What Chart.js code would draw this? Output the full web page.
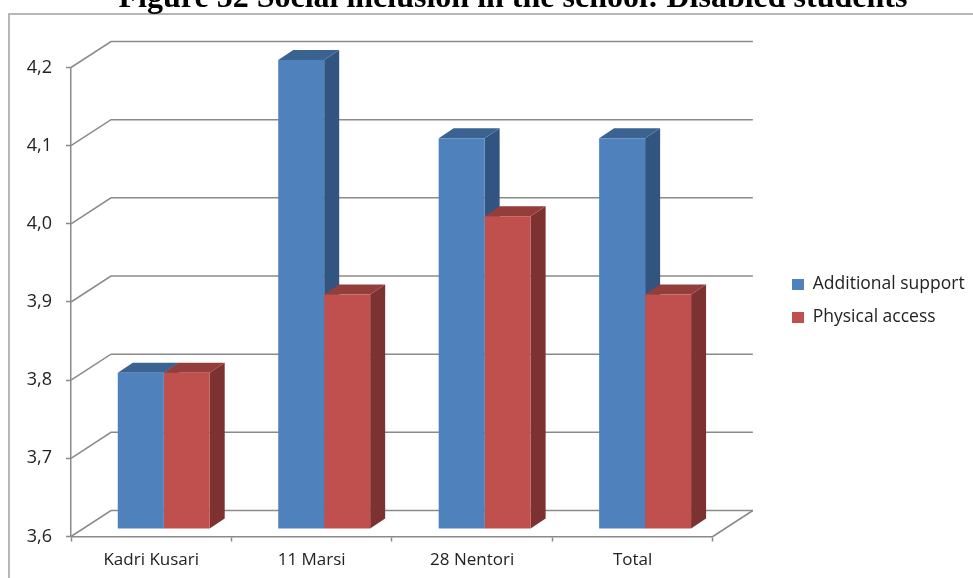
<!DOCTYPE html>
<html>
<head>
<meta charset="utf-8">
<style>
  html, body { margin: 0; padding: 0; background: #fff; overflow: hidden; }
  canvas { display: block; }
</style>
<script src="https://cdn.jsdelivr.net/npm/chart.js@4/dist/chart.umd.min.js"></script>
</head>
<body>
<canvas id="chart" width="973" height="578"></canvas>
<script>
const categories = ['Kadri Kusari', '11 Marsi', '28 Nentori', 'Total'];
const additionalSupport = [3.8, 4.2, 4.1, 4.1];
const physicalAccess = [3.8, 3.9, 4.0, 3.9];
const seriesNames = ['Additional support', 'Physical access'];
const titleText = 'Figure 52 Social inclusion in the school: Disabled students';
const axisFloor = 3.6;
const axisCeiling = 4.2;

const LINE = '#8a8a8a';
const BAR_SHIFT = { x: 12.5, y: -7.5 };   // bars stand inside the floor
const BAR_DEPTH = { x: 15, y: -10 };      // receding edge of each bar
const WALL = { x: 40, y: -26 };           // offset of the back wall
const faces = [
  { front: '#4f81bd', side: '#325480', top: '#3b6391' },
  { front: '#c0504d', side: '#7b3230', top: '#943e3b' }
];

function poly(ctx, pts, fill) {
  ctx.beginPath();
  pts.forEach((p, i) => i ? ctx.lineTo(p[0], p[1]) : ctx.moveTo(p[0], p[1]));
  ctx.closePath();
  ctx.fillStyle = fill;
  ctx.fill();
}

// Frame, back wall, floor and the receding faces of the columns.
const depthPlugin = {
  id: 'depth',
  beforeDraw(chart) {
    const ctx = chart.ctx;
    ctx.save();
    ctx.strokeStyle = '#a0a0a0';
    ctx.lineWidth = 1.5;
    ctx.beginPath();
    ctx.moveTo(9, 580);
    ctx.lineTo(9, 14);
    ctx.lineTo(975, 14);
    ctx.stroke();
    ctx.restore();
  },
  beforeDatasetsDraw(chart) {
    const ctx = chart.ctx;
    const { x, y } = chart.scales;
    const left = x.left, right = x.right;
    ctx.save();
    ctx.strokeStyle = LINE;
    ctx.lineWidth = 1.5;
    y.ticks.forEach(t => {
      const py = y.getPixelForValue(t.value);
      ctx.beginPath();
      ctx.moveTo(left, py);
      ctx.lineTo(left + WALL.x, py + WALL.y);
      ctx.lineTo(right + WALL.x, py + WALL.y);
      ctx.stroke();
    });
    // right edge of the floor
    const floor = y.getPixelForValue(y.min);
    ctx.beginPath();
    ctx.moveTo(right, floor);
    ctx.lineTo(right + WALL.x, floor + WALL.y);
    ctx.stroke();
    ctx.restore();

    ctx.save();
    ctx.translate(BAR_SHIFT.x, BAR_SHIFT.y);
    chart.data.datasets.forEach((_, i) => {
      const colors = faces[i];
      chart.getDatasetMeta(i).data.forEach(bar => {
        const l = bar.x - bar.width / 2, r = bar.x + bar.width / 2;
        const dx = BAR_DEPTH.x, dy = BAR_DEPTH.y;
        poly(ctx, [[r, bar.y], [r + dx, bar.y + dy], [r + dx, bar.base + dy], [r, bar.base]], colors.side);
        poly(ctx, [[l, bar.y], [l + dx, bar.y + dy], [r + dx, bar.y + dy], [r, bar.y]], colors.top);
      });
    });
  },
  afterDatasetsDraw(chart) {
    chart.ctx.restore();
  },
  afterDraw(chart) {
    // The page edge trims the foot of the category labels.
    const ctx = chart.ctx;
    ctx.save();
    ctx.fillStyle = '#fff';
    ctx.fillRect(11, 566, 962, 12);
    ctx.restore();
  },
  afterLayout(chart) {
    // Legend sits in the blank strip right of the back wall.
    const legend = chart.legend;
    const w = legend.right - legend.left, h = legend.bottom - legend.top;
    legend.left = 776.5;
    legend.right = 776.5 + w;
    legend.top = 301 - h / 2;
    legend.bottom = 301 + h / 2;
    legend.adjustHitBoxes();
    // Heading is centred over the frame rather than the plot.
    chart.titleBlock.left = 53;
    chart.titleBlock.right = 973;
  }
};

const barShape = { barPercentage: 1, categoryPercentage: 0.573, base: axisFloor, clip: false };

new Chart(document.getElementById('chart'), {
  type: 'bar',
  data: {
    labels: categories,
    datasets: [
      { label: seriesNames[0], data: additionalSupport, backgroundColor: faces[0].front, ...barShape },
      { label: seriesNames[1], data: physicalAccess, backgroundColor: faces[1].front, ...barShape }
    ]
  },
  plugins: [depthPlugin],
  options: {
    responsive: false,
    animation: false,
    layout: { padding: { left: 0, right: 62, top: 0, bottom: 0 } },
    scales: {
      x: {
        afterFit(s) { s.height = 41.5; },
        grid: { drawOnChartArea: false, drawTicks: true, tickLength: 5, tickColor: LINE, tickWidth: 1.5 },
        border: { color: LINE, width: 1.5 },
        ticks: { color: '#222', font: { family: 'Open Sans', size: 17 }, padding: 8, maxRotation: 0 }
      },
      y: {
        min: axisFloor,
        max: axisCeiling,
        afterFit(s) { s.width = 71; },
        grid: { drawOnChartArea: false, drawTicks: true, tickLength: 5, tickColor: LINE, tickWidth: 1.5 },
        border: { color: LINE, width: 1.5 },
        ticks: {
          stepSize: 0.1,
          color: '#222',
          font: { family: 'Open Sans', size: 18 },
          padding: 14,
          callback: v => v.toFixed(1).replace('.', ',')
        }
      }
    },
    plugins: {
      tooltip: { enabled: false },
      title: {
        display: true,
        text: titleText,
        color: '#000',
        font: { family: 'Liberation Serif', size: 32, weight: 'bold' },
        padding: { top: -20, bottom: 49.1 }
      },
      legend: {
        position: 'right',
        labels: {
          boxWidth: 12,
          boxHeight: 11,
          padding: 15.5,
          color: '#222',
          font: { family: 'Open Sans', size: 17.5 }
        }
      }
    }
  }
});
</script>
</body>
</html>
